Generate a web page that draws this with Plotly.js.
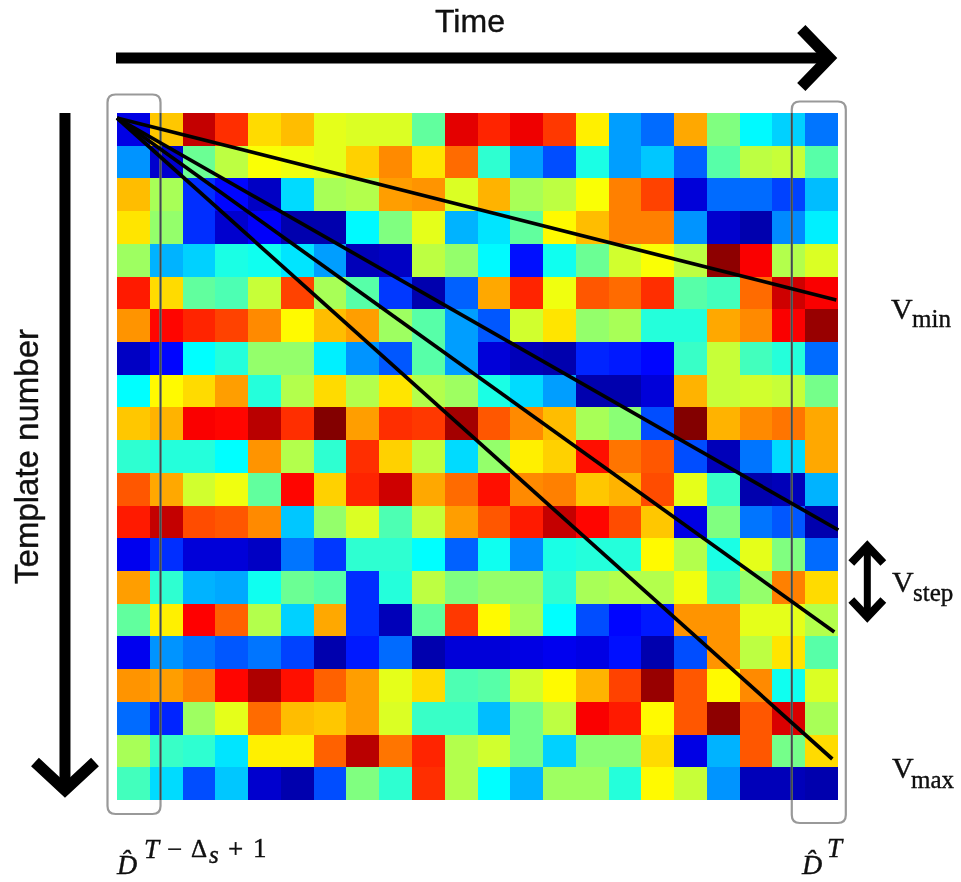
<!DOCTYPE html>
<html>
<head>
<meta charset="utf-8">
<script src="https://cdn.plot.ly/plotly-3.0.1.min.js"></script>
<style>
html,body{margin:0;padding:0;background:#fff;overflow:hidden}
#chart{width:961px;height:882px;filter:blur(0.6px)}
#chart .annotation-text{stroke:#000;stroke-width:0.35px}
</style>
</head>
<body>
<div id="chart"></div>
<script>
const row00=[.10,.68,.93,.83,.66,.69,.60,.59,.59,.47,.90,.84,.89,.82,.64,.28,.23,.71,.50,.37,.33,.24];
const row01=[.27,.08,.48,.56,.62,.61,.60,.67,.74,.65,.77,.42,.28,.20,.40,.28,.32,.22,.46,.56,.57,.46];
const row02=[.69,.54,.17,.13,.07,.34,.54,.55,.72,.73,.59,.70,.54,.56,.62,.75,.81,.09,.23,.23,.19,.31];
const row03=[.65,.52,.17,.08,.12,.05,.05,.37,.50,.60,.30,.35,.47,.63,.69,.75,.75,.27,.08,.05,.26,.36];
const row04=[.53,.30,.33,.40,.39,.35,.28,.06,.07,.56,.52,.37,.14,.39,.48,.58,.62,.56,.98,.88,.55,.59];
const row05=[.85,.66,.47,.45,.57,.81,.54,.46,.18,.05,.22,.71,.84,.61,.79,.77,.83,.46,.44,.77,.92,.88];
const row06=[.73,.87,.84,.81,.74,.63,.69,.72,.53,.46,.28,.21,.58,.65,.52,.54,.41,.41,.71,.74,.88,.97];
const row07=[.07,.13,.375,.41,.52,.52,.36,.27,.21,.46,.28,.09,.06,.05,.16,.15,.13,.43,.57,.44,.41,.23];
const row08=[.375,.63,.66,.72,.41,.55,.66,.55,.65,.55,.53,.40,.34,.28,.05,.05,.09,.70,.57,.58,.57,.49];
const row09=[.68,.70,.88,.87,.94,.83,.99,.72,.83,.82,.96,.79,.74,.69,.54,.51,.20,.99,.70,.74,.76,.71];
const row10=[.42,.41,.41,.375,.73,.55,.42,.83,.67,.56,.34,.52,.64,.67,.86,.76,.79,.20,.06,.24,.34,.71];
const row11=[.79,.71,.58,.61,.47,.87,.67,.84,.92,.71,.77,.86,.74,.75,.68,.70,.80,.60,.43,.05,.06,.30];
const row12=[.85,.93,.80,.79,.74,.32,.52,.59,.45,.57,.72,.79,.85,.93,.87,.80,.68,.10,.50,.24,.21,.05];
const row13=[.11,.17,.09,.09,.07,.24,.18,.42,.42,.375,.22,.39,.26,.40,.41,.41,.63,.55,.40,.60,.50,.23];
const row14=[.72,.42,.30,.29,.39,.48,.46,.17,.41,.56,.50,.52,.52,.42,.54,.55,.55,.61,.44,.52,.75,.66];
const row15=[.47,.64,.875,.78,.55,.33,.71,.17,.06,.47,.82,.63,.54,.375,.20,.13,.15,.73,.73,.60,.60,.55];
const row16=[.11,.27,.24,.21,.24,.19,.05,.15,.23,.05,.09,.09,.10,.11,.10,.14,.05,.20,.73,.56,.65,.46];
const row17=[.73,.72,.75,.87,.95,.86,.78,.72,.60,.66,.45,.46,.58,.63,.70,.81,.97,.79,.63,.74,.39,.59];
const row18=[.23,.16,.53,.60,.77,.69,.68,.72,.59,.43,.43,.31,.49,.56,.88,.85,.63,.79,.98,.79,.91,.54];
const row19=[.54,.43,.42,.35,.64,.64,.78,.94,.76,.84,.55,.58,.49,.33,.51,.51,.66,.10,.30,.79,.49,.66];
const row20=[.44,.34,.20,.32,.08,.05,.20,.50,.42,.83,.55,.375,.30,.53,.53,.41,.63,.57,.27,.06,.06,.05];
const templates=[row00,row01,row02,row03,row04,row05,row06,row07,row08,row09,row10,row11,row12,row13,row14,row15,row16,row17,row18,row19,row20];

const timeTitle="Time";
const templateTitle="Template number";

// plot area in page pixels
const L=117,T=113,W=720.7,H=687;
const ax=p=>(p-L)/W, ay=p=>1-(p-T)/H;
const pathOf=d=>d.replace(/(-?[\d.]+),(-?[\d.]+)/g,(m,a,b)=>ax(+a)+','+ay(+b));
const shp=(d,color,width,extra)=>Object.assign({type:'path',xref:'paper',yref:'paper',path:pathOf(d),
  line:{color:color,width:width},fillcolor:'rgba(0,0,0,0)',layer:'above'},extra||{});
const rrect=(x0,y0,x1,y1,r)=>`M${x0+r},${y0} L${x1-r},${y0} Q${x1},${y0} ${x1},${y0+r} L${x1},${y1-r} Q${x1},${y1} ${x1-r},${y1} L${x0+r},${y1} Q${x0},${y1} ${x0},${y1-r} L${x0},${y0+r} Q${x0},${y0} ${x0+r},${y0} Z`;

const shapes=[
  shp(rrect(107.5,94.5,160.5,814,8),'#999999',2.2),
  shp(rrect(791.5,101.5,845.5,823,8),'#999999',2.2),
  shp('M160.5,113 L160.5,800','rgba(40,55,55,0.8)',1.8),
  shp('M791.5,113 L791.5,800','rgba(40,55,55,0.8)',1.8),
  shp('M116,58 L829,58','#000',11),
  shp('M801,29 L829,58 L801,87','#000',11.5),
  shp('M65,113 L65,788','#000',11),
  shp('M35,762 L65,790 L95,762','#000',11.5),
  shp('M867,548 L867,614','#000',7),
  shp('M851,563 L867,546 L883,563','#000',8),
  shp('M851,600 L867,617 L883,600','#000',8),
  shp('M117,118 L836,300','#000',3.7),
  shp('M117,118 L838,530','#000',3.7),
  shp('M117,118 L834,632','#000',3.7),
  shp('M117,118 L832,759','#000',3.7)
];

const note=(text,x,y,size,family,opts)=>Object.assign({xref:'paper',yref:'paper',x:ax(x),y:ay(y),text:text,showarrow:false,
  xanchor:'left',yanchor:'middle',borderpad:0,font:{size:size,family:family,color:'#111'}},opts||{});
const serif='"Liberation Serif",serif', sans='"Liberation Sans",Arial,sans-serif';

const annotations=[
  note(timeTitle,470,21,32,sans,{xanchor:'center'}),
  note(templateTitle,26,456,33,sans,{xanchor:'center',textangle:-90}),
  note('V',890,309,30,serif),
  note('min',911,318,25,serif),
  note('V',891,581,30,serif),
  note('step',912,592,25,serif),
  note('V',891,767,30,serif),
  note('max',910,779,25,serif),
  note('<i>D̂</i>',115,864,28,serif),
  note('<i>T</i>',143,849,27,serif),
  note('−',166,849,27,serif),
  note('Δ',190,848,25,serif),
  note('<i>s</i>',208,854,25,serif),
  note('+',227,849,27,serif),
  note('1',252,848,27,serif),
  note('<i>D̂</i>',800,864,28,serif),
  note('<i>T</i>',826,848,27,serif)
];

Plotly.newPlot('chart',[{
  type:'heatmap',z:templates,zmin:0,zmax:1,showscale:false,hoverinfo:'skip',
  colorscale:[[0,'rgb(0,0,120)'],[.125,'rgb(0,0,255)'],[.375,'rgb(0,255,255)'],[.625,'rgb(255,255,0)'],[.875,'rgb(255,0,0)'],[1,'rgb(120,0,0)']]
}],{
  width:961,height:882,autosize:false,
  margin:{l:L,r:961-L-W,t:T,b:882-T-H,pad:0},
  paper_bgcolor:'#fff',plot_bgcolor:'#fff',
  xaxis:{visible:false,range:[-0.5,21.5]},
  yaxis:{visible:false,range:[20.5,-0.5]},
  shapes:shapes,annotations:annotations,showlegend:false
},{displayModeBar:false,staticPlot:true});
</script>
</body>
</html>
